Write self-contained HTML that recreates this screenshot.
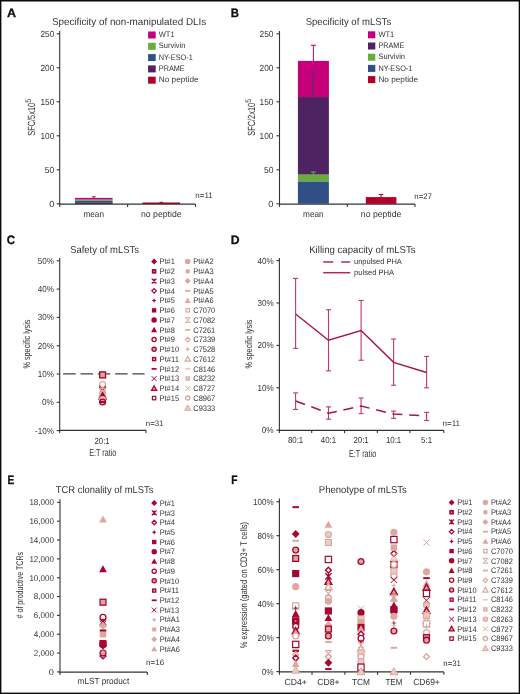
<!DOCTYPE html>
<html><head><meta charset="utf-8"><style>
html,body{margin:0;padding:0;background:#fff;}
body{width:520px;height:694px;overflow:hidden;}
svg{display:block;font-family:"Liberation Sans", sans-serif;will-change:transform;text-rendering:geometricPrecision;}
</style></head><body>
<svg width="520" height="694" viewBox="0 0 520 694" font-family='"Liberation Sans", sans-serif' fill="#333333">
<rect x="0" y="0" width="520" height="694" fill="#fff"/>
<text x="6.94" y="16.80" font-size="12.2" textLength="9.04" lengthAdjust="spacingAndGlyphs" font-weight="bold" fill="#111" stroke="#111" stroke-width="0.3">A</text>
<text x="51.90" y="25.30" font-size="10.0" textLength="154.3" lengthAdjust="spacingAndGlyphs">Specificity of non-manipulated DLIs</text>
<line x1="59.70" y1="31.00" x2="59.70" y2="204.30" stroke="#333333" stroke-width="1.1"/>
<line x1="56.70" y1="33.80" x2="59.70" y2="33.80" stroke="#333333" stroke-width="1.1"/>
<text x="54.30" y="36.70" font-size="8.8" text-anchor="end" textLength="13.85" lengthAdjust="spacingAndGlyphs">250</text>
<line x1="56.70" y1="67.80" x2="59.70" y2="67.80" stroke="#333333" stroke-width="1.1"/>
<text x="54.30" y="70.70" font-size="8.8" text-anchor="end" textLength="13.85" lengthAdjust="spacingAndGlyphs">200</text>
<line x1="56.70" y1="101.80" x2="59.70" y2="101.80" stroke="#333333" stroke-width="1.1"/>
<text x="54.30" y="104.70" font-size="8.8" text-anchor="end" textLength="13.85" lengthAdjust="spacingAndGlyphs">150</text>
<line x1="56.70" y1="135.80" x2="59.70" y2="135.80" stroke="#333333" stroke-width="1.1"/>
<text x="54.30" y="138.70" font-size="8.8" text-anchor="end" textLength="13.85" lengthAdjust="spacingAndGlyphs">100</text>
<line x1="56.70" y1="169.80" x2="59.70" y2="169.80" stroke="#333333" stroke-width="1.1"/>
<text x="54.30" y="172.70" font-size="8.8" text-anchor="end" textLength="9.5" lengthAdjust="spacingAndGlyphs">50</text>
<line x1="56.70" y1="203.80" x2="59.70" y2="203.80" stroke="#333333" stroke-width="1.1"/>
<text x="54.30" y="206.70" font-size="8.8" text-anchor="end" textLength="5.1499999999999995" lengthAdjust="spacingAndGlyphs">0</text>
<line x1="59.20" y1="204.10" x2="195.50" y2="204.10" stroke="#333333" stroke-width="1.3"/>
<line x1="59.70" y1="204.10" x2="59.70" y2="206.90" stroke="#333333" stroke-width="1.1"/>
<line x1="127.60" y1="204.10" x2="127.60" y2="206.90" stroke="#333333" stroke-width="1.1"/>
<line x1="195.50" y1="204.10" x2="195.50" y2="206.90" stroke="#333333" stroke-width="1.1"/>
<rect x="75.00" y="202.30" width="37.60" height="1.60" fill="#3c1f55"/>
<rect x="75.00" y="200.90" width="37.60" height="1.40" fill="#2f4f86"/>
<rect x="75.00" y="199.50" width="37.60" height="1.40" fill="#6aac3c"/>
<rect x="75.00" y="197.90" width="37.60" height="1.60" fill="#c4007a"/>
<line x1="93.80" y1="196.80" x2="93.80" y2="198.50" stroke="#c4007a" stroke-width="1.0"/>
<line x1="91.80" y1="196.80" x2="95.80" y2="196.80" stroke="#c4007a" stroke-width="1.0"/>
<rect x="142.50" y="202.50" width="37.50" height="1.50" fill="#8a0a22"/>
<line x1="161.30" y1="202.30" x2="161.30" y2="203.20" stroke="#b0002a" stroke-width="1"/>
<line x1="159.50" y1="202.30" x2="163.10" y2="202.30" stroke="#b0002a" stroke-width="1"/>
<text x="93.70" y="217.20" font-size="8.8" text-anchor="middle" textLength="20.6" lengthAdjust="spacingAndGlyphs">mean</text>
<text x="161.30" y="217.20" font-size="8.8" text-anchor="middle" textLength="40.6" lengthAdjust="spacingAndGlyphs">no peptide</text>
<text x="195.30" y="198.20" font-size="8.0" textLength="17.4" lengthAdjust="spacingAndGlyphs">n=11</text>
<rect x="148.10" y="31.50" width="7.60" height="7.00" fill="#c4007a"/>
<text x="158.80" y="37.10" font-size="8.0" textLength="15.8" lengthAdjust="spacingAndGlyphs">WT1</text>
<rect x="148.10" y="42.80" width="7.60" height="7.00" fill="#6aac3c"/>
<text x="158.80" y="48.40" font-size="8.0" textLength="26.6" lengthAdjust="spacingAndGlyphs">Survivin</text>
<rect x="148.10" y="54.10" width="7.60" height="7.00" fill="#2f4f86"/>
<text x="158.80" y="59.70" font-size="8.0" textLength="34.0" lengthAdjust="spacingAndGlyphs">NY-ESO-1</text>
<rect x="148.10" y="65.40" width="7.60" height="7.00" fill="#4f2362"/>
<text x="158.80" y="71.00" font-size="8.0" textLength="25.9" lengthAdjust="spacingAndGlyphs">PRAME</text>
<rect x="148.10" y="76.70" width="7.60" height="7.00" fill="#b0002a"/>
<text x="158.80" y="82.30" font-size="8.0" textLength="39.8" lengthAdjust="spacingAndGlyphs">No peptide</text>
<text x="0" y="0" font-size="10.4" textLength="33.0" lengthAdjust="spacingAndGlyphs" transform="translate(34.80,135.80) rotate(-90)">SFC/5x10</text>
<text x="0" y="0" font-size="8.0" textLength="3.9" lengthAdjust="spacingAndGlyphs" transform="translate(31.20,102.80) rotate(-90)">5</text>
<text x="230.64" y="16.60" font-size="12.2" textLength="8.23" lengthAdjust="spacingAndGlyphs" font-weight="bold" fill="#111" stroke="#111" stroke-width="0.3">B</text>
<text x="305.70" y="25.20" font-size="10.0" textLength="85.5" lengthAdjust="spacingAndGlyphs">Specificity of mLSTs</text>
<line x1="279.50" y1="31.00" x2="279.50" y2="204.30" stroke="#333333" stroke-width="1.1"/>
<line x1="276.50" y1="33.80" x2="279.50" y2="33.80" stroke="#333333" stroke-width="1.1"/>
<text x="273.40" y="36.70" font-size="8.8" text-anchor="end" textLength="13.85" lengthAdjust="spacingAndGlyphs">250</text>
<line x1="276.50" y1="67.80" x2="279.50" y2="67.80" stroke="#333333" stroke-width="1.1"/>
<text x="273.40" y="70.70" font-size="8.8" text-anchor="end" textLength="13.85" lengthAdjust="spacingAndGlyphs">200</text>
<line x1="276.50" y1="101.80" x2="279.50" y2="101.80" stroke="#333333" stroke-width="1.1"/>
<text x="273.40" y="104.70" font-size="8.8" text-anchor="end" textLength="13.85" lengthAdjust="spacingAndGlyphs">150</text>
<line x1="276.50" y1="135.80" x2="279.50" y2="135.80" stroke="#333333" stroke-width="1.1"/>
<text x="273.40" y="138.70" font-size="8.8" text-anchor="end" textLength="13.85" lengthAdjust="spacingAndGlyphs">100</text>
<line x1="276.50" y1="169.80" x2="279.50" y2="169.80" stroke="#333333" stroke-width="1.1"/>
<text x="273.40" y="172.70" font-size="8.8" text-anchor="end" textLength="9.5" lengthAdjust="spacingAndGlyphs">50</text>
<line x1="276.50" y1="203.80" x2="279.50" y2="203.80" stroke="#333333" stroke-width="1.1"/>
<text x="273.40" y="206.70" font-size="8.8" text-anchor="end" textLength="5.1499999999999995" lengthAdjust="spacingAndGlyphs">0</text>
<line x1="279.00" y1="204.10" x2="415.00" y2="204.10" stroke="#333333" stroke-width="1.3"/>
<line x1="279.50" y1="204.10" x2="279.50" y2="206.90" stroke="#333333" stroke-width="1.1"/>
<line x1="347.30" y1="204.10" x2="347.30" y2="206.90" stroke="#333333" stroke-width="1.1"/>
<line x1="415.00" y1="204.10" x2="415.00" y2="206.90" stroke="#333333" stroke-width="1.1"/>
<rect x="297.90" y="181.36" width="31.00" height="22.44" fill="#2f4f86"/>
<rect x="297.90" y="174.56" width="31.00" height="6.80" fill="#6aac3c"/>
<rect x="297.90" y="97.04" width="31.00" height="77.52" fill="#4f2362"/>
<rect x="297.90" y="60.90" width="31.00" height="36.14" fill="#c4007a"/>
<line x1="313.40" y1="45.30" x2="313.40" y2="61.00" stroke="#c4007a" stroke-width="1.0"/>
<line x1="310.90" y1="45.30" x2="315.90" y2="45.30" stroke="#c4007a" stroke-width="1.1"/>
<line x1="313.40" y1="73.40" x2="313.40" y2="97.00" stroke="#5a2a6a" stroke-width="1.0"/>
<line x1="310.90" y1="73.40" x2="315.90" y2="73.40" stroke="#5a2a6a" stroke-width="1.1"/>
<line x1="313.40" y1="172.00" x2="313.40" y2="181.00" stroke="#6aac3c" stroke-width="1.0"/>
<line x1="310.90" y1="172.00" x2="315.90" y2="172.00" stroke="#6aac3c" stroke-width="1.1"/>
<rect x="365.80" y="197.10" width="30.60" height="6.80" fill="#b0002a"/>
<line x1="381.10" y1="194.50" x2="381.10" y2="197.20" stroke="#b0002a" stroke-width="1.0"/>
<line x1="378.90" y1="194.50" x2="383.30" y2="194.50" stroke="#b0002a" stroke-width="1.1"/>
<text x="313.40" y="217.20" font-size="8.8" text-anchor="middle" textLength="20.6" lengthAdjust="spacingAndGlyphs">mean</text>
<text x="381.10" y="217.20" font-size="8.8" text-anchor="middle" textLength="40.6" lengthAdjust="spacingAndGlyphs">no peptide</text>
<text x="414.30" y="198.50" font-size="8.0" textLength="17.6" lengthAdjust="spacingAndGlyphs">n=27</text>
<rect x="368.00" y="31.30" width="7.30" height="7.00" fill="#c4007a"/>
<text x="378.40" y="36.90" font-size="8.0" textLength="15.8" lengthAdjust="spacingAndGlyphs">WT1</text>
<rect x="368.00" y="42.50" width="7.30" height="7.00" fill="#4f2362"/>
<text x="378.40" y="48.10" font-size="8.0" textLength="25.9" lengthAdjust="spacingAndGlyphs">PRAME</text>
<rect x="368.00" y="53.70" width="7.30" height="7.00" fill="#6aac3c"/>
<text x="378.40" y="59.30" font-size="8.0" textLength="26.6" lengthAdjust="spacingAndGlyphs">Survivin</text>
<rect x="368.00" y="64.90" width="7.30" height="7.00" fill="#2f4f86"/>
<text x="378.40" y="70.50" font-size="8.0" textLength="34.0" lengthAdjust="spacingAndGlyphs">NY-ESO-1</text>
<rect x="368.00" y="76.10" width="7.30" height="7.00" fill="#b0002a"/>
<text x="378.40" y="81.70" font-size="8.0" textLength="39.8" lengthAdjust="spacingAndGlyphs">No peptide</text>
<text x="0" y="0" font-size="10.4" textLength="33.0" lengthAdjust="spacingAndGlyphs" transform="translate(254.60,135.80) rotate(-90)">SFC/2x10</text>
<text x="0" y="0" font-size="8.0" textLength="3.9" lengthAdjust="spacingAndGlyphs" transform="translate(251.00,102.80) rotate(-90)">5</text>
<text x="6.87" y="244.10" font-size="12.2" textLength="8.39" lengthAdjust="spacingAndGlyphs" font-weight="bold" fill="#111" stroke="#111" stroke-width="0.3">C</text>
<text x="70.20" y="252.50" font-size="10.0" textLength="68.7" lengthAdjust="spacingAndGlyphs">Safety of mLSTs</text>
<line x1="59.70" y1="258.10" x2="59.70" y2="430.80" stroke="#333333" stroke-width="1.1"/>
<line x1="56.70" y1="260.80" x2="59.70" y2="260.80" stroke="#333333" stroke-width="1.1"/>
<text x="53.90" y="263.70" font-size="8.8" text-anchor="end" textLength="16.2" lengthAdjust="spacingAndGlyphs">50%</text>
<line x1="56.70" y1="289.10" x2="59.70" y2="289.10" stroke="#333333" stroke-width="1.1"/>
<text x="53.90" y="292.00" font-size="8.8" text-anchor="end" textLength="16.2" lengthAdjust="spacingAndGlyphs">40%</text>
<line x1="56.70" y1="317.40" x2="59.70" y2="317.40" stroke="#333333" stroke-width="1.1"/>
<text x="53.90" y="320.30" font-size="8.8" text-anchor="end" textLength="16.2" lengthAdjust="spacingAndGlyphs">30%</text>
<line x1="56.70" y1="345.70" x2="59.70" y2="345.70" stroke="#333333" stroke-width="1.1"/>
<text x="53.90" y="348.60" font-size="8.8" text-anchor="end" textLength="16.2" lengthAdjust="spacingAndGlyphs">20%</text>
<line x1="56.70" y1="374.00" x2="59.70" y2="374.00" stroke="#333333" stroke-width="1.1"/>
<text x="53.90" y="376.90" font-size="8.8" text-anchor="end" textLength="16.2" lengthAdjust="spacingAndGlyphs">10%</text>
<line x1="56.70" y1="402.30" x2="59.70" y2="402.30" stroke="#333333" stroke-width="1.1"/>
<text x="53.90" y="405.20" font-size="8.8" text-anchor="end" textLength="11.850000000000001" lengthAdjust="spacingAndGlyphs">0%</text>
<line x1="56.70" y1="430.60" x2="59.70" y2="430.60" stroke="#333333" stroke-width="1.1"/>
<text x="53.90" y="433.50" font-size="8.8" text-anchor="end" textLength="18.900000000000002" lengthAdjust="spacingAndGlyphs">-10%</text>
<line x1="59.20" y1="430.30" x2="146.00" y2="430.30" stroke="#333333" stroke-width="1.3"/>
<line x1="59.70" y1="430.30" x2="59.70" y2="433.10" stroke="#333333" stroke-width="1.1"/>
<line x1="146.00" y1="430.30" x2="146.00" y2="433.10" stroke="#333333" stroke-width="1.1"/>
<line x1="63.20" y1="373.80" x2="144.60" y2="373.80" stroke="#444" stroke-width="1.3" stroke-dasharray="12.5 4.8"/>
<text x="102.10" y="443.50" font-size="8.8" text-anchor="middle" textLength="15.2" lengthAdjust="spacingAndGlyphs">20:1</text>
<text x="102.80" y="456.40" font-size="10.2" text-anchor="middle" textLength="27.2" lengthAdjust="spacingAndGlyphs">E:T ratio</text>
<text x="145.80" y="425.80" font-size="8.0" textLength="17.6" lengthAdjust="spacingAndGlyphs">n=31</text>
<text x="0" y="0" font-size="9.6" textLength="49" lengthAdjust="spacingAndGlyphs" transform="translate(30.20,368.60) rotate(-90)">% specific lysis</text>
<rect x="99.57" y="371.82" width="6.05" height="6.05" fill="#ecccc4" stroke="#dca89e" stroke-width="1.1"/>
<rect x="99.67" y="371.92" width="5.85" height="5.85" fill="#dca89e" stroke="#a80530" stroke-width="1.3"/>
<circle cx="102.60" cy="386.74" r="2.93" fill="#fff" stroke="#a80530" stroke-width="1.3"/>
<circle cx="102.60" cy="384.47" r="2.93" fill="#fff" stroke="#dca89e" stroke-width="1.3"/>
<path d="M99.48,385.88L105.72,392.12M105.72,385.88L99.48,392.12" stroke="#a80530" stroke-width="1.0" fill="none"/>
<path d="M99.48,388.43H105.72M99.48,394.67H105.72M99.48,388.43L105.72,394.67M105.72,388.43L99.48,394.67" stroke="#dca89e" stroke-width="1.15" fill="none"/>
<polygon points="102.60,389.06 106.50,392.96 102.60,396.86 98.70,392.96" fill="#dca89e"/>
<polygon points="102.60,390.71 105.98,396.80 99.22,396.80" fill="#fff" stroke="#dca89e" stroke-width="1.38"/>
<polygon points="102.60,392.98 105.98,399.06 99.22,399.06" fill="#dca89e" stroke="#a80530" stroke-width="1.49"/>
<polygon points="102.60,391.89 106.50,398.91 98.70,398.91" fill="#a80530"/>
<circle cx="102.60" cy="399.47" r="2.98" fill="#ecccc4" stroke="#dca89e" stroke-width="1.2"/>
<circle cx="102.60" cy="402.02" r="2.93" fill="#dca89e" stroke="#a80530" stroke-width="1.3"/>
<line x1="99.35" y1="402.02" x2="105.85" y2="402.02" stroke="#a80530" stroke-width="1.98"/>
<polygon points="154.10,258.60 157.10,261.60 154.10,264.60 151.10,261.60" fill="#a80530"/>
<text x="159.60" y="264.30" font-size="8.0" textLength="15.31" lengthAdjust="spacingAndGlyphs">Pt#1</text>
<rect x="151.80" y="269.05" width="4.60" height="4.60" fill="#a80530"/>
<rect x="153.60" y="270.85" width="1.00" height="1.00" fill="#f0d8c8"/>
<text x="159.60" y="274.05" font-size="8.0" textLength="15.31" lengthAdjust="spacingAndGlyphs">Pt#2</text>
<path d="M151.70,278.70L156.50,283.50M156.50,278.70L151.70,283.50M154.10,278.70V283.50" stroke="#a80530" stroke-width="1.20" fill="none"/>
<text x="159.60" y="283.80" font-size="8.0" textLength="15.31" lengthAdjust="spacingAndGlyphs">Pt#3</text>
<polygon points="154.10,288.60 156.35,290.85 154.10,293.10 151.85,290.85" fill="#fff" stroke="#a80530" stroke-width="1.20"/>
<text x="159.60" y="293.55" font-size="8.0" textLength="15.31" lengthAdjust="spacingAndGlyphs">Pt#4</text>
<polygon points="154.10,298.20 154.85,299.85 156.50,300.60 154.85,301.35 154.10,303.00 153.35,301.35 151.70,300.60 153.35,299.85" fill="#a80530"/>
<text x="159.60" y="303.30" font-size="8.0" textLength="15.31" lengthAdjust="spacingAndGlyphs">Pt#5</text>
<rect x="151.90" y="308.15" width="4.40" height="4.40" fill="#a80530"/>
<text x="159.60" y="313.05" font-size="8.0" textLength="15.31" lengthAdjust="spacingAndGlyphs">Pt#6</text>
<circle cx="154.10" cy="320.10" r="2.75" fill="#a80530"/>
<text x="159.60" y="322.80" font-size="8.0" textLength="15.31" lengthAdjust="spacingAndGlyphs">Pt#7</text>
<polygon points="154.10,326.85 157.10,332.25 151.10,332.25" fill="#a80530"/>
<text x="159.60" y="332.55" font-size="8.0" textLength="15.31" lengthAdjust="spacingAndGlyphs">Pt#8</text>
<circle cx="154.10" cy="339.60" r="2.10" fill="#fff" stroke="#a80530" stroke-width="1.3"/>
<text x="159.60" y="342.30" font-size="8.0" textLength="15.31" lengthAdjust="spacingAndGlyphs">Pt#9</text>
<circle cx="154.10" cy="349.35" r="2.10" fill="#dca89e" stroke="#a80530" stroke-width="1.3"/>
<text x="159.60" y="352.05" font-size="8.0" textLength="19.44" lengthAdjust="spacingAndGlyphs">Pt#10</text>
<rect x="152.55" y="357.55" width="3.10" height="3.10" fill="#dca89e" stroke="#a80530" stroke-width="1.3"/>
<text x="159.60" y="361.80" font-size="8.0" textLength="19.44" lengthAdjust="spacingAndGlyphs">Pt#11</text>
<line x1="151.60" y1="368.85" x2="156.60" y2="368.85" stroke="#a80530" stroke-width="1.80"/>
<text x="159.60" y="371.55" font-size="8.0" textLength="19.44" lengthAdjust="spacingAndGlyphs">Pt#12</text>
<path d="M151.70,376.20L156.50,381.00M156.50,376.20L151.70,381.00" stroke="#a80530" stroke-width="1.0" fill="none"/>
<text x="159.60" y="381.30" font-size="8.0" textLength="19.44" lengthAdjust="spacingAndGlyphs">Pt#13</text>
<polygon points="154.10,385.75 156.70,390.43 151.50,390.43" fill="#dca89e" stroke="#a80530" stroke-width="1.30"/>
<text x="159.60" y="391.05" font-size="8.0" textLength="19.44" lengthAdjust="spacingAndGlyphs">Pt#14</text>
<rect x="152.40" y="396.40" width="3.40" height="3.40" fill="#fff" stroke="#a80530" stroke-width="1.2"/>
<text x="159.60" y="400.80" font-size="8.0" textLength="19.44" lengthAdjust="spacingAndGlyphs">Pt#15</text>
<circle cx="187.70" cy="261.60" r="2.75" fill="#dca89e"/>
<text x="193.30" y="264.30" font-size="8.0" textLength="20.27" lengthAdjust="spacingAndGlyphs">Pt#A2</text>
<rect x="185.70" y="269.35" width="4.00" height="4.00" fill="#dca89e"/>
<text x="193.30" y="274.05" font-size="8.0" textLength="20.27" lengthAdjust="spacingAndGlyphs">Pt#A3</text>
<polygon points="187.70,278.10 190.70,281.10 187.70,284.10 184.70,281.10" fill="#dca89e"/>
<text x="193.30" y="283.80" font-size="8.0" textLength="20.27" lengthAdjust="spacingAndGlyphs">Pt#A4</text>
<line x1="185.20" y1="290.85" x2="190.20" y2="290.85" stroke="#dca89e" stroke-width="1.80"/>
<text x="193.30" y="293.55" font-size="8.0" textLength="20.27" lengthAdjust="spacingAndGlyphs">Pt#A5</text>
<polygon points="187.70,297.60 190.70,303.00 184.70,303.00" fill="#dca89e"/>
<text x="193.30" y="303.30" font-size="8.0" textLength="20.27" lengthAdjust="spacingAndGlyphs">Pt#A6</text>
<rect x="186.00" y="308.65" width="3.40" height="3.40" fill="#fff" stroke="#dca89e" stroke-width="1.2"/>
<text x="193.30" y="313.05" font-size="8.0" textLength="21.92" lengthAdjust="spacingAndGlyphs">C7070</text>
<path d="M185.30,317.70H190.10M185.30,322.50H190.10M185.30,317.70L190.10,322.50M190.10,317.70L185.30,322.50" stroke="#dca89e" stroke-width="1.00" fill="none"/>
<text x="193.30" y="322.80" font-size="8.0" textLength="21.92" lengthAdjust="spacingAndGlyphs">C7082</text>
<line x1="185.20" y1="329.85" x2="190.20" y2="329.85" stroke="#dca89e" stroke-width="1.80"/>
<text x="193.30" y="332.55" font-size="8.0" textLength="21.92" lengthAdjust="spacingAndGlyphs">C7261</text>
<polygon points="187.70,337.35 189.95,339.60 187.70,341.85 185.45,339.60" fill="#fff" stroke="#dca89e" stroke-width="1.20"/>
<text x="193.30" y="342.30" font-size="8.0" textLength="21.92" lengthAdjust="spacingAndGlyphs">C7339</text>
<polygon points="187.70,346.95 188.45,348.60 190.10,349.35 188.45,350.10 187.70,351.75 186.95,350.10 185.30,349.35 186.95,348.60" fill="#dca89e"/>
<text x="193.30" y="352.05" font-size="8.0" textLength="21.92" lengthAdjust="spacingAndGlyphs">C7528</text>
<polygon points="187.70,356.50 190.30,361.18 185.10,361.18" fill="#fff" stroke="#dca89e" stroke-width="1.20"/>
<text x="193.30" y="361.80" font-size="8.0" textLength="21.92" lengthAdjust="spacingAndGlyphs">C7612</text>
<line x1="185.20" y1="368.85" x2="190.20" y2="368.85" stroke="#ecccc4" stroke-width="1.80"/>
<text x="193.30" y="371.55" font-size="8.0" textLength="21.92" lengthAdjust="spacingAndGlyphs">C8146</text>
<rect x="186.05" y="376.95" width="3.30" height="3.30" fill="#ecccc4" stroke="#dca89e" stroke-width="1.1"/>
<text x="193.30" y="381.30" font-size="8.0" textLength="21.92" lengthAdjust="spacingAndGlyphs">C8232</text>
<path d="M185.30,385.95L190.10,390.75M190.10,385.95L185.30,390.75" stroke="#dca89e" stroke-width="1.0" fill="none"/>
<text x="193.30" y="391.05" font-size="8.0" textLength="21.92" lengthAdjust="spacingAndGlyphs">C8727</text>
<circle cx="187.70" cy="398.10" r="2.10" fill="#fff" stroke="#dca89e" stroke-width="1.3"/>
<text x="193.30" y="400.80" font-size="8.0" textLength="21.92" lengthAdjust="spacingAndGlyphs">C8967</text>
<polygon points="187.70,404.85 190.70,410.25 184.70,410.25" fill="#ecccc4" stroke="#dca89e" stroke-width="1"/>
<text x="193.30" y="410.55" font-size="8.0" textLength="21.92" lengthAdjust="spacingAndGlyphs">C9333</text>
<text x="230.83" y="244.00" font-size="12.2" textLength="8.83" lengthAdjust="spacingAndGlyphs" font-weight="bold" fill="#111" stroke="#111" stroke-width="0.3">D</text>
<text x="309.20" y="252.90" font-size="10.0" textLength="106.4" lengthAdjust="spacingAndGlyphs">Killing capacity of mLSTs</text>
<line x1="279.40" y1="258.00" x2="279.40" y2="430.70" stroke="#333333" stroke-width="1.1"/>
<line x1="276.40" y1="260.60" x2="279.40" y2="260.60" stroke="#333333" stroke-width="1.1"/>
<text x="273.60" y="263.50" font-size="8.8" text-anchor="end" textLength="16.2" lengthAdjust="spacingAndGlyphs">40%</text>
<line x1="276.40" y1="303.00" x2="279.40" y2="303.00" stroke="#333333" stroke-width="1.1"/>
<text x="273.60" y="305.90" font-size="8.8" text-anchor="end" textLength="16.2" lengthAdjust="spacingAndGlyphs">30%</text>
<line x1="276.40" y1="345.40" x2="279.40" y2="345.40" stroke="#333333" stroke-width="1.1"/>
<text x="273.60" y="348.30" font-size="8.8" text-anchor="end" textLength="16.2" lengthAdjust="spacingAndGlyphs">20%</text>
<line x1="276.40" y1="387.80" x2="279.40" y2="387.80" stroke="#333333" stroke-width="1.1"/>
<text x="273.60" y="390.70" font-size="8.8" text-anchor="end" textLength="16.2" lengthAdjust="spacingAndGlyphs">10%</text>
<line x1="276.40" y1="430.20" x2="279.40" y2="430.20" stroke="#333333" stroke-width="1.1"/>
<text x="273.60" y="433.10" font-size="8.8" text-anchor="end" textLength="11.850000000000001" lengthAdjust="spacingAndGlyphs">0%</text>
<line x1="278.90" y1="430.30" x2="443.80" y2="430.30" stroke="#333333" stroke-width="1.3"/>
<line x1="279.40" y1="430.30" x2="279.40" y2="433.10" stroke="#333333" stroke-width="1.1"/>
<line x1="311.70" y1="430.30" x2="311.70" y2="433.10" stroke="#333333" stroke-width="1.1"/>
<line x1="344.50" y1="430.30" x2="344.50" y2="433.10" stroke="#333333" stroke-width="1.1"/>
<line x1="377.30" y1="430.30" x2="377.30" y2="433.10" stroke="#333333" stroke-width="1.1"/>
<line x1="409.90" y1="430.30" x2="409.90" y2="433.10" stroke="#333333" stroke-width="1.1"/>
<line x1="443.80" y1="430.30" x2="443.80" y2="433.10" stroke="#333333" stroke-width="1.1"/>
<line x1="295.60" y1="278.41" x2="295.60" y2="348.37" stroke="#bd3a60" stroke-width="1.1"/>
<line x1="293.10" y1="278.41" x2="298.10" y2="278.41" stroke="#bd3a60" stroke-width="1.1"/>
<line x1="293.10" y1="348.37" x2="298.10" y2="348.37" stroke="#bd3a60" stroke-width="1.1"/>
<line x1="328.50" y1="309.78" x2="328.50" y2="370.84" stroke="#bd3a60" stroke-width="1.1"/>
<line x1="326.00" y1="309.78" x2="331.00" y2="309.78" stroke="#bd3a60" stroke-width="1.1"/>
<line x1="326.00" y1="370.84" x2="331.00" y2="370.84" stroke="#bd3a60" stroke-width="1.1"/>
<line x1="361.10" y1="300.46" x2="361.10" y2="360.24" stroke="#bd3a60" stroke-width="1.1"/>
<line x1="358.60" y1="300.46" x2="363.60" y2="300.46" stroke="#bd3a60" stroke-width="1.1"/>
<line x1="358.60" y1="360.24" x2="363.60" y2="360.24" stroke="#bd3a60" stroke-width="1.1"/>
<line x1="393.60" y1="339.04" x2="393.60" y2="385.26" stroke="#bd3a60" stroke-width="1.1"/>
<line x1="391.10" y1="339.04" x2="396.10" y2="339.04" stroke="#bd3a60" stroke-width="1.1"/>
<line x1="391.10" y1="385.26" x2="396.10" y2="385.26" stroke="#bd3a60" stroke-width="1.1"/>
<line x1="426.60" y1="356.42" x2="426.60" y2="387.80" stroke="#bd3a60" stroke-width="1.1"/>
<line x1="424.10" y1="356.42" x2="429.10" y2="356.42" stroke="#bd3a60" stroke-width="1.1"/>
<line x1="424.10" y1="387.80" x2="429.10" y2="387.80" stroke="#bd3a60" stroke-width="1.1"/>
<line x1="295.60" y1="392.89" x2="295.60" y2="409.42" stroke="#bd3a60" stroke-width="1.1"/>
<line x1="293.10" y1="392.89" x2="298.10" y2="392.89" stroke="#bd3a60" stroke-width="1.1"/>
<line x1="293.10" y1="409.42" x2="298.10" y2="409.42" stroke="#bd3a60" stroke-width="1.1"/>
<line x1="328.50" y1="406.88" x2="328.50" y2="419.18" stroke="#bd3a60" stroke-width="1.1"/>
<line x1="326.00" y1="406.88" x2="331.00" y2="406.88" stroke="#bd3a60" stroke-width="1.1"/>
<line x1="326.00" y1="419.18" x2="331.00" y2="419.18" stroke="#bd3a60" stroke-width="1.1"/>
<line x1="361.10" y1="397.98" x2="361.10" y2="413.66" stroke="#bd3a60" stroke-width="1.1"/>
<line x1="358.60" y1="397.98" x2="363.60" y2="397.98" stroke="#bd3a60" stroke-width="1.1"/>
<line x1="358.60" y1="413.66" x2="363.60" y2="413.66" stroke="#bd3a60" stroke-width="1.1"/>
<line x1="393.60" y1="411.12" x2="393.60" y2="418.33" stroke="#bd3a60" stroke-width="1.1"/>
<line x1="391.10" y1="411.12" x2="396.10" y2="411.12" stroke="#bd3a60" stroke-width="1.1"/>
<line x1="391.10" y1="418.33" x2="396.10" y2="418.33" stroke="#bd3a60" stroke-width="1.1"/>
<line x1="426.60" y1="412.39" x2="426.60" y2="420.45" stroke="#bd3a60" stroke-width="1.1"/>
<line x1="424.10" y1="412.39" x2="429.10" y2="412.39" stroke="#bd3a60" stroke-width="1.1"/>
<line x1="424.10" y1="420.45" x2="429.10" y2="420.45" stroke="#bd3a60" stroke-width="1.1"/>
<polyline points="295.60,314.02 328.50,340.31 361.10,330.56 393.60,362.36 426.60,372.54" fill="none" stroke="#a8163f" stroke-width="1.45"/>
<polyline points="295.60,400.94 328.50,413.24 361.10,406.03 393.60,414.09 426.60,415.78" fill="none" stroke="#a8163f" stroke-width="1.5" stroke-dasharray="10 6.8"/>
<line x1="323.20" y1="262.10" x2="350.20" y2="262.10" stroke="#b42a52" stroke-width="1.5" stroke-dasharray="10 8"/>
<line x1="323.20" y1="272.70" x2="350.20" y2="272.70" stroke="#b42a52" stroke-width="1.5"/>
<text x="354.00" y="264.00" font-size="7.8" textLength="47.8" lengthAdjust="spacingAndGlyphs">unpulsed PHA</text>
<text x="354.00" y="275.00" font-size="7.8" textLength="40.1" lengthAdjust="spacingAndGlyphs">pulsed PHA</text>
<text x="295.60" y="443.40" font-size="8.8" text-anchor="middle" textLength="15.3" lengthAdjust="spacingAndGlyphs">80:1</text>
<text x="328.50" y="443.40" font-size="8.8" text-anchor="middle" textLength="15.3" lengthAdjust="spacingAndGlyphs">40:1</text>
<text x="361.10" y="443.40" font-size="8.8" text-anchor="middle" textLength="15.3" lengthAdjust="spacingAndGlyphs">20:1</text>
<text x="393.60" y="443.40" font-size="8.8" text-anchor="middle" textLength="15.3" lengthAdjust="spacingAndGlyphs">10:1</text>
<text x="426.60" y="443.40" font-size="8.8" text-anchor="middle" textLength="11.0" lengthAdjust="spacingAndGlyphs">5:1</text>
<text x="362.60" y="456.80" font-size="10.2" text-anchor="middle" textLength="27.2" lengthAdjust="spacingAndGlyphs">E:T ratio</text>
<text x="442.50" y="425.80" font-size="8.0" textLength="17.6" lengthAdjust="spacingAndGlyphs">n=11</text>
<text x="0" y="0" font-size="9.6" textLength="49" lengthAdjust="spacingAndGlyphs" transform="translate(252.40,368.60) rotate(-90)">% specific lysis</text>
<text x="7.57" y="484.10" font-size="12.2" textLength="6.78" lengthAdjust="spacingAndGlyphs" font-weight="bold" fill="#111" stroke="#111" stroke-width="0.3">E</text>
<text x="55.80" y="492.70" font-size="10.0" textLength="97.6" lengthAdjust="spacingAndGlyphs">TCR clonality of mLSTs</text>
<line x1="60.00" y1="499.20" x2="60.00" y2="672.40" stroke="#333333" stroke-width="1.1"/>
<line x1="57.00" y1="502.34" x2="60.00" y2="502.34" stroke="#333333" stroke-width="1.1"/>
<text x="54.00" y="505.24" font-size="8.4" text-anchor="end" textLength="24.599999999999998" lengthAdjust="spacingAndGlyphs">18,000</text>
<line x1="57.00" y1="521.18" x2="60.00" y2="521.18" stroke="#333333" stroke-width="1.1"/>
<text x="54.00" y="524.08" font-size="8.4" text-anchor="end" textLength="24.599999999999998" lengthAdjust="spacingAndGlyphs">16,000</text>
<line x1="57.00" y1="540.02" x2="60.00" y2="540.02" stroke="#333333" stroke-width="1.1"/>
<text x="54.00" y="542.92" font-size="8.4" text-anchor="end" textLength="24.599999999999998" lengthAdjust="spacingAndGlyphs">14,000</text>
<line x1="57.00" y1="558.86" x2="60.00" y2="558.86" stroke="#333333" stroke-width="1.1"/>
<text x="54.00" y="561.76" font-size="8.4" text-anchor="end" textLength="24.599999999999998" lengthAdjust="spacingAndGlyphs">12,000</text>
<line x1="57.00" y1="577.70" x2="60.00" y2="577.70" stroke="#333333" stroke-width="1.1"/>
<text x="54.00" y="580.60" font-size="8.4" text-anchor="end" textLength="24.599999999999998" lengthAdjust="spacingAndGlyphs">10,000</text>
<line x1="57.00" y1="596.54" x2="60.00" y2="596.54" stroke="#333333" stroke-width="1.1"/>
<text x="54.00" y="599.44" font-size="8.4" text-anchor="end" textLength="20.25" lengthAdjust="spacingAndGlyphs">8,000</text>
<line x1="57.00" y1="615.38" x2="60.00" y2="615.38" stroke="#333333" stroke-width="1.1"/>
<text x="54.00" y="618.28" font-size="8.4" text-anchor="end" textLength="20.25" lengthAdjust="spacingAndGlyphs">6,000</text>
<line x1="57.00" y1="634.22" x2="60.00" y2="634.22" stroke="#333333" stroke-width="1.1"/>
<text x="54.00" y="637.12" font-size="8.4" text-anchor="end" textLength="20.25" lengthAdjust="spacingAndGlyphs">4,000</text>
<line x1="57.00" y1="653.06" x2="60.00" y2="653.06" stroke="#333333" stroke-width="1.1"/>
<text x="54.00" y="655.96" font-size="8.4" text-anchor="end" textLength="20.25" lengthAdjust="spacingAndGlyphs">2,000</text>
<line x1="57.00" y1="671.90" x2="60.00" y2="671.90" stroke="#333333" stroke-width="1.1"/>
<text x="54.00" y="674.80" font-size="8.4" text-anchor="end" textLength="5.1499999999999995" lengthAdjust="spacingAndGlyphs">0</text>
<line x1="59.50" y1="672.10" x2="147.30" y2="672.10" stroke="#333333" stroke-width="1.3"/>
<line x1="60.00" y1="672.10" x2="60.00" y2="674.90" stroke="#333333" stroke-width="1.1"/>
<line x1="147.30" y1="672.10" x2="147.30" y2="674.90" stroke="#333333" stroke-width="1.1"/>
<polygon points="103.00,515.40 106.90,522.42 99.10,522.42" fill="#dca89e"/>
<polygon points="103.00,565.32 106.90,572.34 99.10,572.34" fill="#a80530"/>
<rect x="100.08" y="599.27" width="5.85" height="5.85" fill="#dca89e" stroke="#a80530" stroke-width="1.3"/>
<circle cx="103.00" cy="617.26" r="2.93" fill="#fff" stroke="#a80530" stroke-width="1.3"/>
<path d="M99.88,618.85L106.12,625.09M106.12,618.85L99.88,625.09M103.00,618.85V625.09" stroke="#a80530" stroke-width="1.38" fill="none"/>
<path d="M99.88,620.74L106.12,626.98M106.12,620.74L99.88,626.98" stroke="#a80530" stroke-width="1.0" fill="none"/>
<polygon points="103.00,621.84 106.90,625.74 103.00,629.64 99.10,625.74" fill="#dca89e"/>
<rect x="99.75" y="630.97" width="6.50" height="6.50" fill="#dca89e"/>
<line x1="99.75" y1="630.45" x2="106.25" y2="630.45" stroke="#a80530" stroke-width="1.98"/>
<rect x="99.42" y="640.06" width="7.15" height="7.15" fill="#a80530"/>
<circle cx="103.00" cy="643.64" r="3.58" fill="#a80530"/>
<polygon points="103.00,641.62 106.90,645.52 103.00,649.42 99.10,645.52" fill="#a80530"/>
<polygon points="103.00,644.29 103.60,646.81 106.12,647.41 103.60,648.01 103.00,650.53 102.40,648.01 99.88,647.41 102.40,646.81" fill="#a80530"/>
<polygon points="103.00,652.96 105.92,655.89 103.00,658.81 100.08,655.89" fill="#fff" stroke="#a80530" stroke-width="1.38"/>
<circle cx="103.00" cy="653.06" r="2.93" fill="#dca89e" stroke="#a80530" stroke-width="1.3"/>
<polygon points="103.00,649.00 103.60,651.52 106.12,652.12 103.60,652.72 103.00,655.24 102.40,652.72 99.88,652.12 102.40,651.52" fill="#dca89e"/>
<text x="103.40" y="684.30" font-size="8.8" text-anchor="middle" textLength="51.6" lengthAdjust="spacingAndGlyphs">mLST product</text>
<text x="146.10" y="665.30" font-size="8.0" textLength="18.2" lengthAdjust="spacingAndGlyphs">n=16</text>
<text x="0" y="0" font-size="9.6" textLength="66.6" lengthAdjust="spacingAndGlyphs" transform="translate(23.00,618.50) rotate(-90)"># of productive TCRs</text>
<polygon points="154.20,500.10 157.20,503.10 154.20,506.10 151.20,503.10" fill="#a80530"/>
<text x="159.70" y="505.80" font-size="8.0" textLength="15.31" lengthAdjust="spacingAndGlyphs">Pt#1</text>
<path d="M151.80,510.42L156.60,515.22M156.60,510.42L151.80,515.22M154.20,510.42V515.22" stroke="#a80530" stroke-width="1.20" fill="none"/>
<text x="159.70" y="515.52" font-size="8.0" textLength="15.31" lengthAdjust="spacingAndGlyphs">Pt#3</text>
<polygon points="154.20,520.29 156.45,522.54 154.20,524.79 151.95,522.54" fill="#fff" stroke="#a80530" stroke-width="1.20"/>
<text x="159.70" y="525.24" font-size="8.0" textLength="15.31" lengthAdjust="spacingAndGlyphs">Pt#4</text>
<polygon points="154.20,529.86 154.95,531.51 156.60,532.26 154.95,533.01 154.20,534.66 153.45,533.01 151.80,532.26 153.45,531.51" fill="#a80530"/>
<text x="159.70" y="534.96" font-size="8.0" textLength="15.31" lengthAdjust="spacingAndGlyphs">Pt#5</text>
<rect x="152.00" y="539.78" width="4.40" height="4.40" fill="#a80530"/>
<text x="159.70" y="544.68" font-size="8.0" textLength="15.31" lengthAdjust="spacingAndGlyphs">Pt#6</text>
<circle cx="154.20" cy="551.70" r="2.75" fill="#a80530"/>
<text x="159.70" y="554.40" font-size="8.0" textLength="15.31" lengthAdjust="spacingAndGlyphs">Pt#7</text>
<polygon points="154.20,558.42 157.20,563.82 151.20,563.82" fill="#a80530"/>
<text x="159.70" y="564.12" font-size="8.0" textLength="15.31" lengthAdjust="spacingAndGlyphs">Pt#8</text>
<circle cx="154.20" cy="571.14" r="2.10" fill="#fff" stroke="#a80530" stroke-width="1.3"/>
<text x="159.70" y="573.84" font-size="8.0" textLength="15.31" lengthAdjust="spacingAndGlyphs">Pt#9</text>
<circle cx="154.20" cy="580.86" r="2.10" fill="#dca89e" stroke="#a80530" stroke-width="1.3"/>
<text x="159.70" y="583.56" font-size="8.0" textLength="19.44" lengthAdjust="spacingAndGlyphs">Pt#10</text>
<rect x="152.65" y="589.03" width="3.10" height="3.10" fill="#dca89e" stroke="#a80530" stroke-width="1.3"/>
<text x="159.70" y="593.28" font-size="8.0" textLength="19.44" lengthAdjust="spacingAndGlyphs">Pt#11</text>
<line x1="151.70" y1="600.30" x2="156.70" y2="600.30" stroke="#a80530" stroke-width="1.80"/>
<text x="159.70" y="603.00" font-size="8.0" textLength="19.44" lengthAdjust="spacingAndGlyphs">Pt#12</text>
<path d="M151.80,607.62L156.60,612.42M156.60,607.62L151.80,612.42" stroke="#a80530" stroke-width="1.0" fill="none"/>
<text x="159.70" y="612.72" font-size="8.0" textLength="19.44" lengthAdjust="spacingAndGlyphs">Pt#13</text>
<polygon points="154.20,617.34 154.95,618.99 156.60,619.74 154.95,620.49 154.20,622.14 153.45,620.49 151.80,619.74 153.45,618.99" fill="#dca89e"/>
<text x="159.70" y="622.44" font-size="8.0" textLength="20.27" lengthAdjust="spacingAndGlyphs">Pt#A1</text>
<rect x="152.20" y="627.46" width="4.00" height="4.00" fill="#dca89e"/>
<text x="159.70" y="632.16" font-size="8.0" textLength="20.27" lengthAdjust="spacingAndGlyphs">Pt#A3</text>
<polygon points="154.20,636.18 157.20,639.18 154.20,642.18 151.20,639.18" fill="#dca89e"/>
<text x="159.70" y="641.88" font-size="8.0" textLength="20.27" lengthAdjust="spacingAndGlyphs">Pt#A4</text>
<polygon points="154.20,645.90 157.20,651.30 151.20,651.30" fill="#dca89e"/>
<text x="159.70" y="651.60" font-size="8.0" textLength="20.27" lengthAdjust="spacingAndGlyphs">Pt#A6</text>
<text x="231.26" y="484.10" font-size="12.2" textLength="6.26" lengthAdjust="spacingAndGlyphs" font-weight="bold" fill="#111" stroke="#111" stroke-width="0.3">F</text>
<text x="318.80" y="492.70" font-size="10.0" textLength="88.1" lengthAdjust="spacingAndGlyphs">Phenotype of mLSTs</text>
<line x1="279.40" y1="498.60" x2="279.40" y2="672.10" stroke="#333333" stroke-width="1.1"/>
<line x1="276.40" y1="501.70" x2="279.40" y2="501.70" stroke="#333333" stroke-width="1.1"/>
<text x="273.60" y="504.60" font-size="8.8" text-anchor="end" textLength="20.55" lengthAdjust="spacingAndGlyphs">100%</text>
<line x1="276.40" y1="535.68" x2="279.40" y2="535.68" stroke="#333333" stroke-width="1.1"/>
<text x="273.60" y="538.58" font-size="8.8" text-anchor="end" textLength="16.2" lengthAdjust="spacingAndGlyphs">80%</text>
<line x1="276.40" y1="569.66" x2="279.40" y2="569.66" stroke="#333333" stroke-width="1.1"/>
<text x="273.60" y="572.56" font-size="8.8" text-anchor="end" textLength="16.2" lengthAdjust="spacingAndGlyphs">60%</text>
<line x1="276.40" y1="603.64" x2="279.40" y2="603.64" stroke="#333333" stroke-width="1.1"/>
<text x="273.60" y="606.54" font-size="8.8" text-anchor="end" textLength="16.2" lengthAdjust="spacingAndGlyphs">40%</text>
<line x1="276.40" y1="637.62" x2="279.40" y2="637.62" stroke="#333333" stroke-width="1.1"/>
<text x="273.60" y="640.52" font-size="8.8" text-anchor="end" textLength="16.2" lengthAdjust="spacingAndGlyphs">20%</text>
<line x1="276.40" y1="671.60" x2="279.40" y2="671.60" stroke="#333333" stroke-width="1.1"/>
<text x="273.60" y="674.50" font-size="8.8" text-anchor="end" textLength="11.850000000000001" lengthAdjust="spacingAndGlyphs">0%</text>
<line x1="278.90" y1="671.90" x2="443.90" y2="671.90" stroke="#333333" stroke-width="1.3"/>
<line x1="279.40" y1="671.90" x2="279.40" y2="674.70" stroke="#333333" stroke-width="1.1"/>
<line x1="312.00" y1="671.90" x2="312.00" y2="674.70" stroke="#333333" stroke-width="1.1"/>
<line x1="344.90" y1="671.90" x2="344.90" y2="674.70" stroke="#333333" stroke-width="1.1"/>
<line x1="377.60" y1="671.90" x2="377.60" y2="674.70" stroke="#333333" stroke-width="1.1"/>
<line x1="410.50" y1="671.90" x2="410.50" y2="674.70" stroke="#333333" stroke-width="1.1"/>
<line x1="443.90" y1="671.90" x2="443.90" y2="674.70" stroke="#333333" stroke-width="1.1"/>
<text x="295.70" y="684.90" font-size="8.8" text-anchor="middle" textLength="22.3" lengthAdjust="spacingAndGlyphs">CD4+</text>
<text x="328.40" y="684.90" font-size="8.8" text-anchor="middle" textLength="22.3" lengthAdjust="spacingAndGlyphs">CD8+</text>
<text x="361.00" y="684.90" font-size="8.8" text-anchor="middle" textLength="18.0" lengthAdjust="spacingAndGlyphs">TCM</text>
<text x="393.90" y="684.90" font-size="8.8" text-anchor="middle" textLength="16.9" lengthAdjust="spacingAndGlyphs">TEM</text>
<text x="426.50" y="684.90" font-size="8.8" text-anchor="middle" textLength="26.7" lengthAdjust="spacingAndGlyphs">CD69+</text>
<text x="443.30" y="665.60" font-size="8.0" textLength="17.6" lengthAdjust="spacingAndGlyphs">n=31</text>
<text x="0" y="0" font-size="9.6" textLength="126.4" lengthAdjust="spacingAndGlyphs" transform="translate(247.10,648.30) rotate(-90)">% expression (gated on CD3+ T cells)</text>
<line x1="292.45" y1="507.14" x2="298.95" y2="507.14" stroke="#a80530" stroke-width="1.98"/>
<polygon points="295.70,530.08 299.60,533.98 295.70,537.88 291.80,533.98" fill="#a80530"/>
<line x1="292.45" y1="540.78" x2="298.95" y2="540.78" stroke="#dca89e" stroke-width="1.98"/>
<circle cx="295.70" cy="550.12" r="2.93" fill="#dca89e" stroke="#a80530" stroke-width="1.3"/>
<rect x="292.77" y="555.52" width="5.85" height="5.85" fill="#dca89e" stroke="#a80530" stroke-width="1.3"/>
<rect x="292.12" y="569.99" width="7.15" height="7.15" fill="#a80530"/>
<circle cx="295.70" cy="586.65" r="3.58" fill="#dca89e"/>
<rect x="292.56" y="602.88" width="6.27" height="6.27" fill="#fff" stroke="#dca89e" stroke-width="1.2"/>
<polygon points="295.70,604.94 296.30,607.46 298.82,608.06 296.30,608.66 295.70,611.18 295.10,608.66 292.58,608.06 295.10,607.46" fill="#a80530"/>
<polygon points="295.70,610.10 299.60,617.12 291.80,617.12" fill="#a80530"/>
<rect x="291.96" y="617.23" width="7.47" height="7.47" fill="#a80530"/>
<rect x="295.05" y="620.32" width="1.30" height="1.30" fill="#f0d8c8"/>
<path d="M292.58,620.91L298.82,627.15M298.82,620.91L292.58,627.15" stroke="#a80530" stroke-width="1.0" fill="none"/>
<circle cx="295.70" cy="626.41" r="2.93" fill="#fff" stroke="#a80530" stroke-width="1.3"/>
<polygon points="295.70,629.99 299.08,636.08 292.32,636.08" fill="#fff" stroke="#dca89e" stroke-width="1.38"/>
<polygon points="295.70,627.61 299.08,633.70 292.32,633.70" fill="#dca89e" stroke="#a80530" stroke-width="1.49"/>
<circle cx="295.70" cy="635.92" r="2.93" fill="#fff" stroke="#dca89e" stroke-width="1.3"/>
<rect x="292.56" y="641.28" width="6.27" height="6.27" fill="#fff" stroke="#a80530" stroke-width="1.2"/>
<line x1="292.45" y1="649.51" x2="298.95" y2="649.51" stroke="#dca89e" stroke-width="1.98"/>
<line x1="292.45" y1="651.04" x2="298.95" y2="651.04" stroke="#a80530" stroke-width="1.98"/>
<polygon points="295.70,651.69 298.62,654.61 295.70,657.53 292.77,654.61" fill="#fff" stroke="#dca89e" stroke-width="1.38"/>
<polygon points="295.70,655.08 298.62,658.01 295.70,660.93 292.77,658.01" fill="#fff" stroke="#a80530" stroke-width="1.38"/>
<polygon points="295.70,660.05 299.60,667.07 291.80,667.07" fill="#dca89e"/>
<polygon points="295.70,666.17 299.60,673.19 291.80,673.19" fill="#ecccc4" stroke="#dca89e" stroke-width="1"/>
<polygon points="328.40,520.74 332.30,527.76 324.50,527.76" fill="#dca89e"/>
<circle cx="328.40" cy="534.49" r="2.98" fill="#ecccc4" stroke="#dca89e" stroke-width="1.2"/>
<rect x="325.38" y="539.45" width="6.05" height="6.05" fill="#ecccc4" stroke="#dca89e" stroke-width="1.1"/>
<rect x="325.26" y="556.33" width="6.27" height="6.27" fill="#fff" stroke="#a80530" stroke-width="1.2"/>
<polygon points="328.40,567.24 331.32,570.17 328.40,573.09 325.47,570.17" fill="#fff" stroke="#a80530" stroke-width="1.38"/>
<path d="M325.28,573.34L331.52,579.58M331.52,573.34L325.28,579.58M328.40,573.34V579.58" stroke="#a80530" stroke-width="1.38" fill="none"/>
<polygon points="328.40,578.17 331.78,584.26 325.02,584.26" fill="#dca89e" stroke="#a80530" stroke-width="1.49"/>
<polygon points="328.40,583.27 331.78,589.35 325.02,589.35" fill="#fff" stroke="#dca89e" stroke-width="1.38"/>
<path d="M325.28,590.33H331.52M325.28,596.57H331.52M325.28,590.33L331.52,596.57M331.52,590.33L325.28,596.57" stroke="#dca89e" stroke-width="1.15" fill="none"/>
<circle cx="328.40" cy="598.54" r="2.93" fill="#fff" stroke="#dca89e" stroke-width="1.3"/>
<circle cx="328.40" cy="601.26" r="3.58" fill="#dca89e"/>
<rect x="324.82" y="607.37" width="7.15" height="7.15" fill="#a80530"/>
<polygon points="328.40,614.01 332.30,621.03 324.50,621.03" fill="#a80530"/>
<polygon points="328.40,620.98 332.30,624.88 328.40,628.78 324.50,624.88" fill="#dca89e"/>
<rect x="325.47" y="626.20" width="5.85" height="5.85" fill="#dca89e" stroke="#a80530" stroke-width="1.3"/>
<circle cx="328.40" cy="635.92" r="2.93" fill="#dca89e" stroke="#a80530" stroke-width="1.3"/>
<line x1="325.15" y1="642.04" x2="331.65" y2="642.04" stroke="#dca89e" stroke-width="1.98"/>
<path d="M325.28,650.47H331.52M325.28,656.71H331.52M325.28,650.47L331.52,656.71M331.52,650.47L325.28,656.71" stroke="#dca89e" stroke-width="1.15" fill="none"/>
<polygon points="328.40,653.89 331.32,656.82 328.40,659.74 325.47,656.82" fill="#fff" stroke="#dca89e" stroke-width="1.38"/>
<polygon points="328.40,658.87 332.30,662.77 328.40,666.67 324.50,662.77" fill="#a80530"/>
<line x1="325.15" y1="669.05" x2="331.65" y2="669.05" stroke="#a80530" stroke-width="1.98"/>
<circle cx="361.00" cy="561.50" r="2.93" fill="#dca89e" stroke="#a80530" stroke-width="1.3"/>
<path d="M357.88,605.62L364.12,611.86M364.12,605.62L357.88,611.86" stroke="#dca89e" stroke-width="1.0" fill="none"/>
<circle cx="361.00" cy="612.64" r="3.58" fill="#a80530"/>
<rect x="357.98" y="615.91" width="6.05" height="6.05" fill="#ecccc4" stroke="#dca89e" stroke-width="1.1"/>
<circle cx="361.00" cy="622.33" r="3.58" fill="#dca89e"/>
<rect x="357.43" y="623.85" width="7.15" height="7.15" fill="#a80530"/>
<polygon points="361.00,625.23 364.90,632.25 357.10,632.25" fill="#dca89e"/>
<polygon points="361.00,631.30 363.93,634.22 361.00,637.15 358.07,634.22" fill="#fff" stroke="#a80530" stroke-width="1.38"/>
<circle cx="361.00" cy="638.30" r="2.93" fill="#fff" stroke="#a80530" stroke-width="1.3"/>
<polygon points="361.00,638.75 361.60,641.27 364.12,641.87 361.60,642.47 361.00,644.99 360.40,642.47 357.88,641.87 360.40,641.27" fill="#a80530"/>
<path d="M357.88,641.98L364.12,648.22M364.12,641.98L357.88,648.22" stroke="#dca89e" stroke-width="1.0" fill="none"/>
<polygon points="361.00,645.45 364.38,651.54 357.62,651.54" fill="#fff" stroke="#dca89e" stroke-width="1.38"/>
<rect x="357.98" y="649.89" width="6.05" height="6.05" fill="#ecccc4" stroke="#dca89e" stroke-width="1.1"/>
<circle cx="361.00" cy="656.99" r="2.93" fill="#fff" stroke="#dca89e" stroke-width="1.3"/>
<circle cx="361.00" cy="661.41" r="2.98" fill="#ecccc4" stroke="#dca89e" stroke-width="1.2"/>
<rect x="357.86" y="664.05" width="6.27" height="6.27" fill="#fff" stroke="#a80530" stroke-width="1.2"/>
<polygon points="361.00,667.70 364.90,674.72 357.10,674.72" fill="#ecccc4" stroke="#dca89e" stroke-width="1"/>
<circle cx="393.90" cy="532.28" r="3.58" fill="#dca89e"/>
<rect x="390.76" y="536.45" width="6.27" height="6.27" fill="#fff" stroke="#a80530" stroke-width="1.2"/>
<polygon points="393.90,550.59 396.82,553.52 393.90,556.44 390.97,553.52" fill="#fff" stroke="#a80530" stroke-width="1.38"/>
<rect x="390.65" y="544.32" width="6.50" height="6.50" fill="#dca89e"/>
<path d="M390.78,553.12L397.02,559.36M397.02,553.12L390.78,559.36" stroke="#dca89e" stroke-width="1.0" fill="none"/>
<line x1="390.65" y1="559.47" x2="397.15" y2="559.47" stroke="#ecccc4" stroke-width="1.98"/>
<rect x="390.76" y="561.43" width="6.27" height="6.27" fill="#fff" stroke="#a80530" stroke-width="1.2"/>
<circle cx="393.90" cy="564.56" r="2.93" fill="#fff" stroke="#dca89e" stroke-width="1.3"/>
<rect x="390.88" y="568.33" width="6.05" height="6.05" fill="#ecccc4" stroke="#dca89e" stroke-width="1.1"/>
<circle cx="393.90" cy="576.46" r="2.93" fill="#fff" stroke="#dca89e" stroke-width="1.3"/>
<path d="M390.78,576.73L397.02,582.97M397.02,576.73L390.78,582.97" stroke="#a80530" stroke-width="1.0" fill="none"/>
<polygon points="393.90,582.17 394.50,584.69 397.02,585.29 394.50,585.89 393.90,588.41 393.30,585.89 390.78,585.29 393.30,584.69" fill="#dca89e"/>
<polygon points="393.90,588.37 397.28,594.45 390.52,594.45" fill="#dca89e" stroke="#a80530" stroke-width="1.49"/>
<polygon points="393.90,594.64 397.80,601.66 390.00,601.66" fill="#dca89e"/>
<path d="M390.78,594.74H397.02M390.78,600.98H397.02M390.78,594.74L397.02,600.98M397.02,594.74L390.78,600.98" stroke="#dca89e" stroke-width="1.15" fill="none"/>
<polygon points="393.90,601.44 397.80,608.46 390.00,608.46" fill="#a80530"/>
<rect x="390.32" y="606.01" width="7.15" height="7.15" fill="#a80530"/>
<circle cx="393.90" cy="610.95" r="3.58" fill="#a80530"/>
<circle cx="393.90" cy="616.21" r="3.58" fill="#dca89e"/>
<polygon points="393.90,619.89 394.50,622.41 397.02,623.01 394.50,623.61 393.90,626.13 393.30,623.61 390.78,623.01 393.30,622.41" fill="#a80530"/>
<polygon points="393.90,622.61 394.50,625.13 397.02,625.73 394.50,626.33 393.90,628.85 393.30,626.33 390.78,625.73 393.30,625.13" fill="#dca89e"/>
<circle cx="393.90" cy="630.99" r="2.93" fill="#dca89e" stroke="#a80530" stroke-width="1.3"/>
<line x1="390.65" y1="647.81" x2="397.15" y2="647.81" stroke="#dca89e" stroke-width="1.98"/>
<polygon points="393.90,667.70 397.80,674.72 390.00,674.72" fill="#ecccc4" stroke="#dca89e" stroke-width="1"/>
<path d="M423.38,539.36L429.62,545.60M429.62,539.36L423.38,545.60" stroke="#dca89e" stroke-width="1.0" fill="none"/>
<circle cx="426.50" cy="571.87" r="3.58" fill="#dca89e"/>
<line x1="423.25" y1="578.15" x2="429.75" y2="578.15" stroke="#a80530" stroke-width="1.98"/>
<polygon points="426.50,579.86 430.40,586.88 422.60,586.88" fill="#dca89e"/>
<polygon points="426.50,584.12 429.88,590.20 423.12,590.20" fill="#dca89e" stroke="#a80530" stroke-width="1.49"/>
<rect x="423.36" y="590.31" width="6.27" height="6.27" fill="#fff" stroke="#a80530" stroke-width="1.2"/>
<path d="M423.38,597.12L429.62,603.36M429.62,597.12L423.38,603.36" stroke="#a80530" stroke-width="1.0" fill="none"/>
<circle cx="426.50" cy="605.34" r="2.98" fill="#ecccc4" stroke="#dca89e" stroke-width="1.2"/>
<polygon points="426.50,607.06 429.88,613.14 423.12,613.14" fill="#dca89e" stroke="#a80530" stroke-width="1.49"/>
<rect x="423.48" y="612.51" width="6.05" height="6.05" fill="#ecccc4" stroke="#dca89e" stroke-width="1.1"/>
<polygon points="426.50,616.73 430.40,623.75 422.60,623.75" fill="#ecccc4" stroke="#dca89e" stroke-width="1"/>
<rect x="423.36" y="620.89" width="6.27" height="6.27" fill="#fff" stroke="#dca89e" stroke-width="1.2"/>
<polygon points="426.50,623.46 427.10,625.98 429.62,626.58 427.10,627.18 426.50,629.70 425.90,627.18 423.38,626.58 425.90,625.98" fill="#dca89e"/>
<circle cx="426.50" cy="632.52" r="2.93" fill="#fff" stroke="#dca89e" stroke-width="1.3"/>
<rect x="423.57" y="634.70" width="5.85" height="5.85" fill="#dca89e" stroke="#a80530" stroke-width="1.3"/>
<circle cx="426.50" cy="640.17" r="2.93" fill="#dca89e" stroke="#a80530" stroke-width="1.3"/>
<polygon points="426.50,653.72 429.43,656.65 426.50,659.57 423.57,656.65" fill="#fff" stroke="#dca89e" stroke-width="1.38"/>
<polygon points="451.60,499.50 454.60,502.50 451.60,505.50 448.60,502.50" fill="#a80530"/>
<text x="457.20" y="505.20" font-size="8.0" textLength="15.31" lengthAdjust="spacingAndGlyphs">Pt#1</text>
<rect x="449.30" y="509.92" width="4.60" height="4.60" fill="#a80530"/>
<rect x="451.10" y="511.72" width="1.00" height="1.00" fill="#f0d8c8"/>
<text x="457.20" y="514.92" font-size="8.0" textLength="15.31" lengthAdjust="spacingAndGlyphs">Pt#2</text>
<path d="M449.20,519.54L454.00,524.34M454.00,519.54L449.20,524.34M451.60,519.54V524.34" stroke="#a80530" stroke-width="1.20" fill="none"/>
<text x="457.20" y="524.64" font-size="8.0" textLength="15.31" lengthAdjust="spacingAndGlyphs">Pt#3</text>
<polygon points="451.60,529.41 453.85,531.66 451.60,533.91 449.35,531.66" fill="#fff" stroke="#a80530" stroke-width="1.20"/>
<text x="457.20" y="534.36" font-size="8.0" textLength="15.31" lengthAdjust="spacingAndGlyphs">Pt#4</text>
<polygon points="451.60,538.98 452.35,540.63 454.00,541.38 452.35,542.13 451.60,543.78 450.85,542.13 449.20,541.38 450.85,540.63" fill="#a80530"/>
<text x="457.20" y="544.08" font-size="8.0" textLength="15.31" lengthAdjust="spacingAndGlyphs">Pt#5</text>
<rect x="449.40" y="548.90" width="4.40" height="4.40" fill="#a80530"/>
<text x="457.20" y="553.80" font-size="8.0" textLength="15.31" lengthAdjust="spacingAndGlyphs">Pt#6</text>
<circle cx="451.60" cy="560.82" r="2.75" fill="#a80530"/>
<text x="457.20" y="563.52" font-size="8.0" textLength="15.31" lengthAdjust="spacingAndGlyphs">Pt#7</text>
<polygon points="451.60,567.54 454.60,572.94 448.60,572.94" fill="#a80530"/>
<text x="457.20" y="573.24" font-size="8.0" textLength="15.31" lengthAdjust="spacingAndGlyphs">Pt#8</text>
<circle cx="451.60" cy="580.26" r="2.10" fill="#fff" stroke="#a80530" stroke-width="1.3"/>
<text x="457.20" y="582.96" font-size="8.0" textLength="15.31" lengthAdjust="spacingAndGlyphs">Pt#9</text>
<circle cx="451.60" cy="589.98" r="2.10" fill="#dca89e" stroke="#a80530" stroke-width="1.3"/>
<text x="457.20" y="592.68" font-size="8.0" textLength="19.44" lengthAdjust="spacingAndGlyphs">Pt#10</text>
<rect x="450.05" y="598.15" width="3.10" height="3.10" fill="#dca89e" stroke="#a80530" stroke-width="1.3"/>
<text x="457.20" y="602.40" font-size="8.0" textLength="19.44" lengthAdjust="spacingAndGlyphs">Pt#11</text>
<line x1="449.10" y1="609.42" x2="454.10" y2="609.42" stroke="#a80530" stroke-width="1.80"/>
<text x="457.20" y="612.12" font-size="8.0" textLength="19.44" lengthAdjust="spacingAndGlyphs">Pt#12</text>
<path d="M449.20,616.74L454.00,621.54M454.00,616.74L449.20,621.54" stroke="#a80530" stroke-width="1.0" fill="none"/>
<text x="457.20" y="621.84" font-size="8.0" textLength="19.44" lengthAdjust="spacingAndGlyphs">Pt#13</text>
<polygon points="451.60,626.26 454.20,630.94 449.00,630.94" fill="#dca89e" stroke="#a80530" stroke-width="1.30"/>
<text x="457.20" y="631.56" font-size="8.0" textLength="19.44" lengthAdjust="spacingAndGlyphs">Pt#14</text>
<rect x="449.90" y="636.88" width="3.40" height="3.40" fill="#fff" stroke="#a80530" stroke-width="1.2"/>
<text x="457.20" y="641.28" font-size="8.0" textLength="19.44" lengthAdjust="spacingAndGlyphs">Pt#15</text>
<circle cx="485.40" cy="502.50" r="2.75" fill="#dca89e"/>
<text x="490.90" y="505.20" font-size="8.0" textLength="20.27" lengthAdjust="spacingAndGlyphs">Pt#A2</text>
<rect x="483.40" y="510.22" width="4.00" height="4.00" fill="#dca89e"/>
<text x="490.90" y="514.92" font-size="8.0" textLength="20.27" lengthAdjust="spacingAndGlyphs">Pt#A3</text>
<polygon points="485.40,518.94 488.40,521.94 485.40,524.94 482.40,521.94" fill="#dca89e"/>
<text x="490.90" y="524.64" font-size="8.0" textLength="20.27" lengthAdjust="spacingAndGlyphs">Pt#A4</text>
<line x1="482.90" y1="531.66" x2="487.90" y2="531.66" stroke="#dca89e" stroke-width="1.80"/>
<text x="490.90" y="534.36" font-size="8.0" textLength="20.27" lengthAdjust="spacingAndGlyphs">Pt#A5</text>
<polygon points="485.40,538.38 488.40,543.78 482.40,543.78" fill="#dca89e"/>
<text x="490.90" y="544.08" font-size="8.0" textLength="20.27" lengthAdjust="spacingAndGlyphs">Pt#A6</text>
<rect x="483.70" y="549.40" width="3.40" height="3.40" fill="#fff" stroke="#dca89e" stroke-width="1.2"/>
<text x="490.90" y="553.80" font-size="8.0" textLength="21.92" lengthAdjust="spacingAndGlyphs">C7070</text>
<path d="M483.00,558.42H487.80M483.00,563.22H487.80M483.00,558.42L487.80,563.22M487.80,558.42L483.00,563.22" stroke="#dca89e" stroke-width="1.00" fill="none"/>
<text x="490.90" y="563.52" font-size="8.0" textLength="21.92" lengthAdjust="spacingAndGlyphs">C7082</text>
<line x1="482.90" y1="570.54" x2="487.90" y2="570.54" stroke="#dca89e" stroke-width="1.80"/>
<text x="490.90" y="573.24" font-size="8.0" textLength="21.92" lengthAdjust="spacingAndGlyphs">C7261</text>
<polygon points="485.40,578.01 487.65,580.26 485.40,582.51 483.15,580.26" fill="#fff" stroke="#dca89e" stroke-width="1.20"/>
<text x="490.90" y="582.96" font-size="8.0" textLength="21.92" lengthAdjust="spacingAndGlyphs">C7339</text>
<polygon points="485.40,587.38 488.00,592.06 482.80,592.06" fill="#fff" stroke="#dca89e" stroke-width="1.20"/>
<text x="490.90" y="592.68" font-size="8.0" textLength="21.92" lengthAdjust="spacingAndGlyphs">C7612</text>
<line x1="482.90" y1="599.70" x2="487.90" y2="599.70" stroke="#ecccc4" stroke-width="1.80"/>
<text x="490.90" y="602.40" font-size="8.0" textLength="21.92" lengthAdjust="spacingAndGlyphs">C8146</text>
<rect x="483.75" y="607.77" width="3.30" height="3.30" fill="#ecccc4" stroke="#dca89e" stroke-width="1.1"/>
<text x="490.90" y="612.12" font-size="8.0" textLength="21.92" lengthAdjust="spacingAndGlyphs">C8232</text>
<circle cx="485.40" cy="619.14" r="2.15" fill="#ecccc4" stroke="#dca89e" stroke-width="1.2"/>
<text x="490.90" y="621.84" font-size="8.0" textLength="21.92" lengthAdjust="spacingAndGlyphs">C8263</text>
<path d="M483.00,626.46L487.80,631.26M487.80,626.46L483.00,631.26" stroke="#dca89e" stroke-width="1.0" fill="none"/>
<text x="490.90" y="631.56" font-size="8.0" textLength="21.92" lengthAdjust="spacingAndGlyphs">C8727</text>
<circle cx="485.40" cy="638.58" r="2.10" fill="#fff" stroke="#dca89e" stroke-width="1.3"/>
<text x="490.90" y="641.28" font-size="8.0" textLength="21.92" lengthAdjust="spacingAndGlyphs">C8967</text>
<polygon points="485.40,645.30 488.40,650.70 482.40,650.70" fill="#ecccc4" stroke="#dca89e" stroke-width="1"/>
<text x="490.90" y="651.00" font-size="8.0" textLength="21.92" lengthAdjust="spacingAndGlyphs">C9333</text>
<rect x="0" y="0" width="1.4" height="694" fill="#0a0a0a"/><rect x="0" y="0" width="520" height="1.5" fill="#0a0a0a"/><rect x="518.7" y="0" width="1.3" height="694" fill="#0a0a0a"/><rect x="0" y="692.6" width="520" height="1.4" fill="#0a0a0a"/>
</svg>
</body></html>
